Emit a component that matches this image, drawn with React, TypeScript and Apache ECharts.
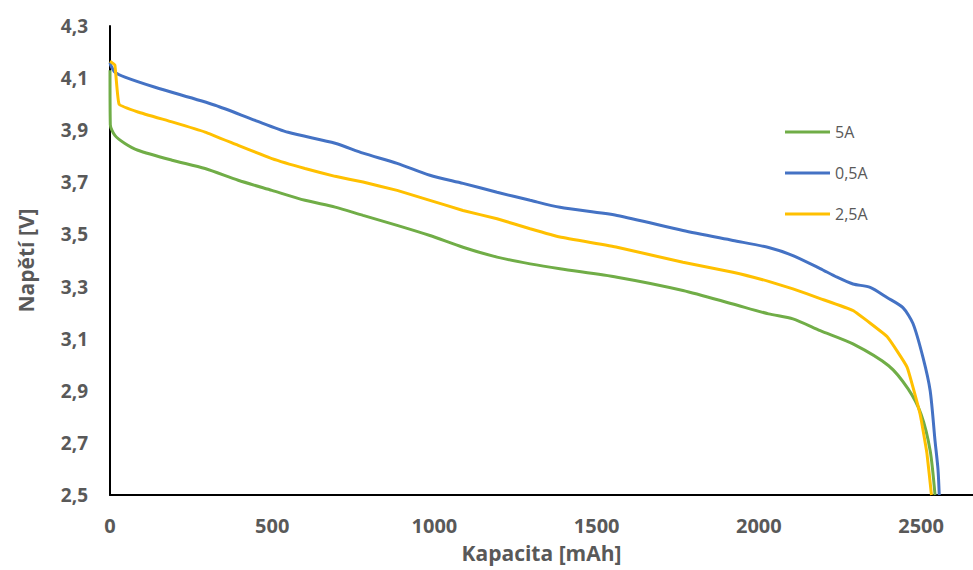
import React, { useEffect, useRef } from "react";
import * as echarts from "echarts";

// Series: 5A (green)
const cap5A = [0, 1, 15, 46, 86, 191, 293, 395, 499, 601, 694, 780, 885, 986, 1088, 1193, 1295, 1387, 1563, 1766, 1920, 2030, 2105, 2189, 2290, 2400, 2460, 2500, 2528, 2543];
const volt5A = [4.13, 3.92, 3.88, 3.849, 3.823, 3.785, 3.753, 3.708, 3.669, 3.631, 3.605, 3.573, 3.535, 3.496, 3.451, 3.413, 3.387, 3.368, 3.336, 3.285, 3.233, 3.195, 3.176, 3.131, 3.08, 2.996, 2.907, 2.81, 2.67, 2.5];

// Series: 0,5A (blue)
const cap05A = [0, 2, 15, 46, 139, 324, 447, 549, 694, 780, 885, 986, 1088, 1193, 1295, 1387, 1563, 1766, 1920, 2030, 2105, 2189, 2241, 2290, 2343, 2395, 2444, 2475, 2506, 2528, 2543, 2552, 2556];
const volt05A = [4.16, 4.15, 4.123, 4.104, 4.065, 3.996, 3.938, 3.892, 3.85, 3.812, 3.773, 3.727, 3.696, 3.662, 3.631, 3.604, 3.573, 3.515, 3.477, 3.45, 3.419, 3.369, 3.336, 3.31, 3.297, 3.258, 3.219, 3.158, 3.027, 2.9, 2.708, 2.6, 2.5];

// Series: 2,5A (yellow)
const cap25A = [0, 15, 28, 86, 191, 293, 395, 499, 601, 694, 780, 885, 986, 1088, 1193, 1295, 1387, 1563, 1766, 1920, 2030, 2105, 2189, 2290, 2395, 2457, 2497, 2518, 2532];
const volt25A = [4.165, 4.15, 4.0, 3.97, 3.932, 3.893, 3.842, 3.791, 3.753, 3.723, 3.701, 3.669, 3.631, 3.592, 3.56, 3.522, 3.49, 3.451, 3.393, 3.355, 3.32, 3.291, 3.254, 3.208, 3.108, 2.99, 2.81, 2.66, 2.5];

const seriesNames = ["5A", "0,5A", "2,5A"];
const seriesColors = ["#70AD47", "#4472C4", "#FFC000"];
const seriesSmooth = [0.25, 0.25, 0.1];

const xTitle = "Kapacita [mAh]";
const yTitle = "Napětí [V]";

const zip = (xs: number[], ys: number[]) => xs.map((x, i) => [x, ys[i]]);

export default function App() {
  const ref = useRef<HTMLDivElement>(null);
  useEffect(() => {
    if (!ref.current) return;
    const chart = echarts.init(ref.current, undefined, { renderer: "svg" });
    const datasets = [zip(cap5A, volt5A), zip(cap05A, volt05A), zip(cap25A, volt25A)];
    chart.setOption({
      animation: false,
      backgroundColor: "#ffffff",
      grid: { left: 110, right: 0, top: 26, bottom: 75, containLabel: false },
      legend: {
        orient: "vertical",
        left: 780,
        top: 119,
        icon: "rect",
        itemWidth: 45,
        itemHeight: 3,
        itemGap: 25,
        data: seriesNames,
        textStyle: {
          color: "#595959",
          fontSize: 16,
          lineHeight: 16,
          fontFamily: "Open Sans",
        },
      },
      xAxis: {
        type: "value",
        min: 0,
        max: 2660,
        interval: 500,
        name: xTitle,
        nameLocation: "middle",
        nameGap: 47,
        nameTextStyle: {
          color: "#595959",
          fontSize: 21,
          fontWeight: "bold",
          fontFamily: "Open Sans",
        },
        axisLine: { show: true, lineStyle: { color: "#000000", width: 2 } },
        axisTick: { show: false },
        splitLine: { show: false },
        axisLabel: {
          color: "#595959",
          fontSize: 20,
          fontWeight: "bold",
          fontFamily: "Open Sans",
          margin: 20,
          showMaxLabel: false,
          formatter: (v: number) => String(Math.round(v)),
        },
      },
      yAxis: {
        type: "value",
        min: 2.5,
        max: 4.3,
        interval: 0.2,
        name: yTitle,
        nameLocation: "middle",
        nameGap: 74,
        nameRotate: 90,
        nameTextStyle: {
          color: "#595959",
          fontSize: 21,
          fontWeight: "bold",
          fontFamily: "Open Sans",
        },
        axisLine: { show: true, lineStyle: { color: "#000000", width: 2 } },
        axisTick: { show: false },
        splitLine: { show: false },
        axisLabel: {
          color: "#595959",
          fontSize: 19,
          fontWeight: "bold",
          fontFamily: "Open Sans",
          margin: 22,
          formatter: (v: number) => v.toFixed(1).replace(".", ","),
        },
      },
      series: seriesNames.map((name, i) => ({
        name,
        type: "line",
        data: datasets[i],
        symbol: "none",
        smooth: seriesSmooth[i],
        color: seriesColors[i],
        lineStyle: { color: seriesColors[i], width: 3 },
      })),
    });
    return () => chart.dispose();
  }, []);
  return (
    <div
      ref={ref}
      style={{ position: "absolute", left: 0, top: 0, width: 973, height: 570, background: "#fff" }}
    />
  );
}
